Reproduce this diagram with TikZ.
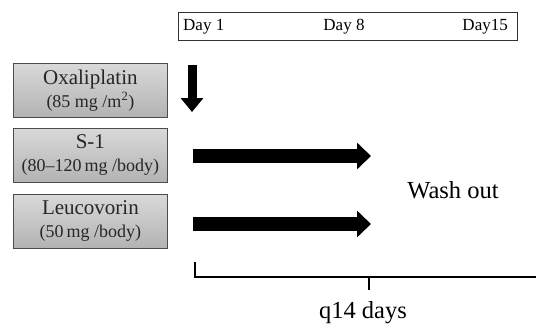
\documentclass[tikz,border=0pt]{standalone}
\usepackage{fontspec}
\setmainfont{Liberation Serif}
\usetikzlibrary{arrows.meta}
\begin{document}
\begin{tikzpicture}[x=1pt,y=-1pt,
  drug/.style={draw=black!70, line width=0.8pt, top color=black!15, bottom color=black!30, minimum width=154pt, minimum height=54pt, align=center, inner sep=0pt, anchor=north west, text=black!85, font=\fontsize{18}{23}\selectfont},
  big/.style={line width=14pt, -{Triangle[length=14pt,width=26pt]}},
  daylbl/.style={font=\fontsize{17}{17}\selectfont, inner sep=0pt},
  brk/.style={line width=1.6pt}]
\useasboundingbox (0,0) rectangle (536,327);
\node[draw=black!80, line width=0.7pt, minimum width=339pt, minimum height=28pt, anchor=north west, inner sep=0pt] (days) at (178,12) {};
\node[daylbl, anchor=west] (d1) at (183,27) {Day 1};
\node[daylbl] (d8) at (344,27) {Day 8};
\node[daylbl, anchor=east] (d15) at (508,27) {Day15};
\node[drug] (oxa) at (13,63) {{\fontsize{21}{23}\selectfont Oxaliplatin}\\(85 mg /m\textsuperscript{2})};
\node[drug] (s1) at (13,128) {{\fontsize{21}{23}\selectfont S-1}\\(80–120\,mg /body)};
\node[drug] (leu) at (13,194) {{\fontsize{21}{23}\selectfont Leucovorin}\\(50\,mg /body)};
\coordinate (oxs) at (192,65);
\coordinate (oxe) at (192,112);
\coordinate (s1s) at (193,156);
\coordinate (s1e) at (371,156);
\coordinate (les) at (193,224);
\coordinate (lee) at (371,224);
\draw[line width=9pt, -{Triangle[length=14pt,width=22pt]}] (oxs) -- (oxe);
\draw[big] (s1s) -- (s1e);
\draw[big] (les) -- (lee);
\node[font=\fontsize{24.5}{25}\selectfont] (wash) at (453,190) {Wash out};
\coordinate (bl) at (195,262);
\coordinate (bc) at (195,277);
\coordinate (br) at (536,277);
\coordinate (tk) at (369,277);
\coordinate (tkb) at (369,290);
\draw[brk] (bl) -- (bc) -- (br);
\draw[line width=2.5pt] (tk) -- (tkb);
\node[font=\fontsize{24.5}{25}\selectfont] (q14) at (363,313) {q14 days};
\end{tikzpicture}
\end{document}
